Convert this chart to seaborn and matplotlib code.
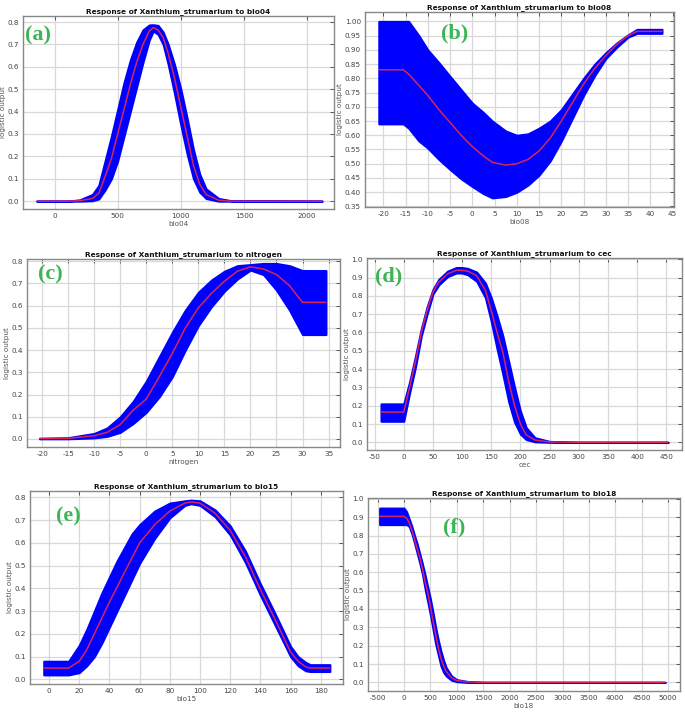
import numpy as np
import pandas as pd
import matplotlib
matplotlib.use("Agg")
import matplotlib.pyplot as plt
import seaborn as sns

# ---------------- data ----------------
# (a) bio04
bio04_x = [-140, 100, 200, 300, 350, 400, 450, 500, 550, 600, 650, 700, 750, 782,
           820, 860, 900, 950, 1000, 1050, 1100, 1150, 1200, 1300, 1400, 2120]
bio04_mean = [0, 0, 0.002, 0.012, 0.035, 0.11, 0.19, 0.30, 0.41, 0.52, 0.62, 0.70, 0.76, 0.775,
              0.765, 0.73, 0.66, 0.55, 0.42, 0.29, 0.16, 0.075, 0.03, 0.004, 0, 0]
bio04_upper = [0, 0, 0.006, 0.03, 0.07, 0.18, 0.29, 0.41, 0.53, 0.63, 0.71, 0.765, 0.787, 0.788,
               0.785, 0.755, 0.70, 0.61, 0.50, 0.37, 0.23, 0.12, 0.055, 0.012, 0.002, 0]
bio04_lower = [0, 0, 0, 0.002, 0.01, 0.05, 0.10, 0.18, 0.29, 0.40, 0.51, 0.62, 0.72, 0.76,
               0.745, 0.70, 0.61, 0.48, 0.34, 0.21, 0.10, 0.04, 0.012, 0, 0, 0]

# (b) bio08
bio08_x = [-21, -15.5, -14.3, -12, -10, -7.5, -5, -2.5, 0, 2.5, 4.5, 7.5, 10, 12.5, 15,
           17.5, 20, 22.5, 25, 27.5, 30, 32.5, 35, 37, 42.6]
bio08_mean = [0.83, 0.83, 0.815, 0.775, 0.74, 0.69, 0.645, 0.60, 0.56, 0.527, 0.505, 0.495,
              0.50, 0.515, 0.545, 0.59, 0.65, 0.715, 0.78, 0.835, 0.88, 0.92, 0.95, 0.965, 0.965]
bio08_upper = [1.00, 1.00, 1.00, 0.95, 0.90, 0.855, 0.807, 0.76, 0.713, 0.68, 0.65, 0.615,
               0.60, 0.605, 0.625, 0.65, 0.69, 0.745, 0.80, 0.85, 0.89, 0.925, 0.953, 0.972, 0.972]
bio08_lower = [0.64, 0.64, 0.625, 0.58, 0.555, 0.515, 0.48, 0.447, 0.42, 0.395, 0.38, 0.385,
               0.40, 0.425, 0.46, 0.51, 0.58, 0.66, 0.74, 0.81, 0.87, 0.91, 0.945, 0.958, 0.958]

# (c) nitrogen
nitro_x = [-20.5, -15, -10, -7.5, -5, -2.5, 0, 2.5, 5, 7.5, 10, 12.5, 15, 17.5, 20,
           22.5, 25, 27.5, 30, 34.5]
nitro_mean = [0.002, 0.003, 0.015, 0.03, 0.065, 0.13, 0.18, 0.28, 0.385, 0.50, 0.59, 0.655,
              0.71, 0.755, 0.775, 0.765, 0.74, 0.69, 0.615, 0.615]
nitro_upper = [0.003, 0.006, 0.025, 0.05, 0.10, 0.17, 0.26, 0.37, 0.48, 0.58, 0.66, 0.715,
               0.755, 0.78, 0.785, 0.79, 0.79, 0.78, 0.758, 0.758]
nitro_lower = [0.001, 0.001, 0.005, 0.012, 0.03, 0.07, 0.12, 0.19, 0.28, 0.40, 0.51, 0.595,
               0.665, 0.72, 0.76, 0.74, 0.67, 0.58, 0.47, 0.47]

# (d) cec
cec_x = [-39, 0, 10, 20, 30, 40, 50, 60, 75, 90, 100, 110, 125, 140, 150, 160, 170,
         180, 190, 200, 210, 225, 250, 300, 453]
cec_mean = [0.165, 0.165, 0.30, 0.44, 0.60, 0.72, 0.82, 0.875, 0.92, 0.94, 0.94, 0.935,
            0.91, 0.83, 0.72, 0.60, 0.49, 0.33, 0.20, 0.10, 0.04, 0.012, 0.002, 0, 0]
cec_upper = [0.21, 0.21, 0.33, 0.47, 0.62, 0.74, 0.835, 0.89, 0.935, 0.955, 0.955, 0.95,
             0.93, 0.87, 0.79, 0.69, 0.58, 0.44, 0.30, 0.17, 0.08, 0.025, 0.005, 0, 0]
cec_lower = [0.115, 0.115, 0.27, 0.41, 0.58, 0.70, 0.81, 0.86, 0.905, 0.925, 0.925, 0.915,
             0.88, 0.79, 0.66, 0.51, 0.37, 0.22, 0.11, 0.045, 0.015, 0.003, 0, 0, 0]

# (e) bio15
bio15_x = [-3.5, 13, 20, 25, 30, 35, 40, 45, 50, 55, 60, 70, 80, 90, 94, 100, 110, 120,
           130, 140, 150, 160, 165, 170, 173, 186]
bio15_mean = [0.05, 0.05, 0.08, 0.13, 0.20, 0.27, 0.34, 0.405, 0.47, 0.535, 0.60, 0.68, 0.74,
              0.775, 0.78, 0.775, 0.73, 0.655, 0.54, 0.395, 0.26, 0.12, 0.08, 0.055, 0.05, 0.05]
bio15_upper = [0.08, 0.08, 0.15, 0.22, 0.30, 0.38, 0.45, 0.52, 0.58, 0.64, 0.68, 0.74, 0.775,
               0.785, 0.788, 0.785, 0.745, 0.675, 0.565, 0.42, 0.285, 0.145, 0.10, 0.075, 0.065, 0.065]
bio15_lower = [0.02, 0.02, 0.03, 0.06, 0.10, 0.16, 0.23, 0.30, 0.37, 0.44, 0.51, 0.62, 0.71,
               0.765, 0.772, 0.765, 0.715, 0.635, 0.515, 0.37, 0.235, 0.10, 0.06, 0.038, 0.035, 0.035]

# (f) bio18
bio18_x = [-460, 0, 50, 100, 150, 200, 250, 300, 350, 400, 450, 500, 550, 600, 650, 700,
           750, 800, 900, 1000, 1200, 1500, 4940]
bio18_mean = [0.905, 0.905, 0.895, 0.87, 0.83, 0.78, 0.73, 0.68, 0.62, 0.55, 0.49, 0.415,
              0.335, 0.26, 0.19, 0.13, 0.09, 0.06, 0.025, 0.01, 0.003, 0, 0]
bio18_upper = [0.95, 0.95, 0.93, 0.89, 0.85, 0.80, 0.755, 0.70, 0.645, 0.585, 0.52, 0.455,
               0.38, 0.30, 0.23, 0.17, 0.12, 0.08, 0.035, 0.015, 0.005, 0, 0]
bio18_lower = [0.86, 0.86, 0.86, 0.85, 0.81, 0.76, 0.705, 0.65, 0.59, 0.51, 0.44, 0.37,
               0.29, 0.21, 0.15, 0.09, 0.055, 0.035, 0.012, 0.004, 0, 0, 0]

variables = ["bio04", "bio08", "nitrogen", "cec", "bio15", "bio18"]
letters = ["(a)", "(b)", "(c)", "(d)", "(e)", "(f)"]
xs = [bio04_x, bio08_x, nitro_x, cec_x, bio15_x, bio18_x]
means = [bio04_mean, bio08_mean, nitro_mean, cec_mean, bio15_mean, bio18_mean]
uppers = [bio04_upper, bio08_upper, nitro_upper, cec_upper, bio15_upper, bio18_upper]
lowers = [bio04_lower, bio08_lower, nitro_lower, cec_lower, bio15_lower, bio18_lower]

x_ticks = [np.arange(0, 2001, 500), np.arange(-20, 46, 5), np.arange(-20, 36, 5),
           np.arange(-50, 451, 50), np.arange(0, 181, 20), np.arange(-500, 5001, 500)]
y_ticks = [np.arange(0, 0.81, 0.1), np.arange(0.35, 1.001, 0.05), np.arange(0, 0.81, 0.1),
           np.arange(0, 1.01, 0.1), np.arange(0, 0.81, 0.1), np.arange(0, 1.01, 0.1)]
y_fmt = ["%.1f", "%.2f", "%.1f", "%.1f", "%.1f", "%.1f"]
x_lims = [(-250, 2213), (-24.1, 45.3), (-22.9, 37.2), (-63, 477), (-12.6, 194.7), (-680, 5223)]
y_lims = [(-0.035, 0.827), (0.348, 1.033), (-0.036, 0.81), (-0.042, 1.007), (-0.02, 0.828), (-0.047, 1.005)]

# axes boxes in pixels: left, right, top, bottom
W, H = 685, 713
boxes = [(23, 334, 16, 209), (365, 674, 12, 207), (27, 340, 259, 447),
         (367, 682, 258, 450), (30, 343, 491, 684), (368, 680, 498, 691)]
# letter label centres in pixels
letter_pos = [(38, 35), (455, 33), (50, 274), (389, 276), (68, 516), (454, 527)]

sns.set_style("white")
plt.rcParams['font.family'] = ['DejaVu Sans']
plt.rcParams['axes.unicode_minus'] = False

fig = plt.figure(figsize=(W / 100, H / 100), dpi=100)

for i, var in enumerate(variables):
    l, r, t, b = boxes[i]
    ax = fig.add_axes([l / W, 1 - b / H, (r - l) / W, (b - t) / H])
    df = pd.DataFrame({"x": xs[i], "mean": means[i], "lo": lowers[i], "hi": uppers[i]})

    ax.fill_between(df["x"], df["lo"], df["hi"], color="#0000ff", linewidth=1.5,
                    edgecolor="#0000ff", zorder=2)
    sns.lineplot(data=df, x="x", y="mean", ax=ax, color="#d8245c", linewidth=1.1,
                 zorder=3, estimator=None, sort=False)

    ax.set_xlim(*x_lims[i])
    ax.set_ylim(*y_lims[i])
    ax.set_xticks(x_ticks[i])
    ax.set_yticks(y_ticks[i])
    ax.set_yticklabels([y_fmt[i] % v for v in y_ticks[i]])
    ax.grid(True, color="#d8d8d8", linewidth=0.9, zorder=0)
    ax.set_axisbelow(True)
    ax.tick_params(direction="in", length=3, width=0.7, colors="#555555",
                   labelsize=5.2, top=True, right=True, pad=3, labelcolor="#444444")
    for s in ax.spines.values():
        s.set_color("#888888")
        s.set_linewidth(1.0)
    ax.set_title("Response of Xanthium_strumarium to " + var, fontsize=5.3,
                 fontweight="bold", color="#111111", pad=2)
    ax.set_xlabel(var, fontsize=5.2, color="#555555", labelpad=1)
    ax.set_ylabel("logistic output", fontsize=5.2, color="#555555", labelpad=1)

    lx, ly = letter_pos[i]
    fig.text(lx / W, 1 - ly / H, letters[i], ha="center", va="center",
             fontsize=16, fontweight="bold", color="#3db552",
             family=["Liberation Serif", "DejaVu Serif"])

fig.savefig("out.png", dpi=100)
